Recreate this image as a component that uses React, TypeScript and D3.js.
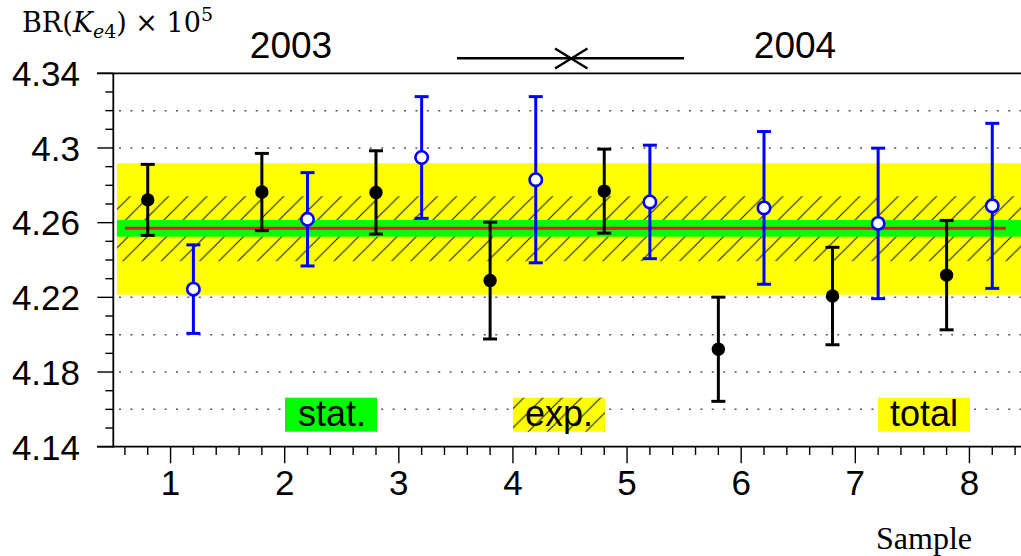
import React from 'react';
import * as d3 from 'd3';

// ---- data ----
const samples = [1, 2, 3, 4, 5, 6, 7, 8];
const xTickLabels = ['1', '2', '3', '4', '5', '6', '7', '8'];
const filledValues = [4.2722, 4.2764, 4.2762, 4.229, 4.2769, 4.1922, 4.2207, 4.2319];
const filledErrors = [0.019, 0.0207, 0.0223, 0.0313, 0.0225, 0.0279, 0.0261, 0.0293];
const openValues = [4.2244, 4.2618, 4.2949, 4.283, 4.2711, 4.2679, 4.2596, 4.269];
const openErrors = [0.0237, 0.025, 0.0326, 0.0445, 0.0304, 0.0409, 0.0403, 0.0442];
const yTickValues = [4.14, 4.18, 4.22, 4.26, 4.3, 4.34];
const yTickLabels = ['4.14', '4.18', '4.22', '4.26', '4.3', '4.34'];
const gridValues = [4.16, 4.18, 4.2, 4.22, 4.24, 4.26, 4.28, 4.3, 4.32];
const average = 4.257;
const averageRange = [0.6, 8.32];
const statBand = [4.2525, 4.2614];
const expBand = [4.2394, 4.2742];
const totalBand = [4.2214, 4.2918];
const bandRange = [0.53, 8.5];
const legendLabels = ['stat.', 'exp.', 'total'];
const yearLabels = ['2003', '2004'];

const SHIFT = 0.2;

export default function App() {
  const W = 1021;
  const H = 556;
  const x = d3.scaleLinear().domain([0.5, 8.5]).range([113.5, 1026.5]);
  const y = d3.scaleLinear().domain([4.14, 4.34]).range([446.7, 73.3]);
  const sans = "'Liberation Sans', Arial, Helvetica, sans-serif";
  const serif = "'Liberation Serif', 'Times New Roman', serif";
  const wideSerif = "'DejaVu Serif', 'Liberation Serif', serif";

  const minorX = d3.range(6, 85, 2).map((v) => v / 10);
  const minorY = d3.range(414, 435, 1).map((v) => v / 100);

  const bandRect = (b: number[], fill: string) => (
    <rect
      x={x(bandRange[0])}
      width={x(bandRange[1]) - x(bandRange[0])}
      y={y(b[1])}
      height={y(b[0]) - y(b[1])}
      fill={fill}
    />
  );

  const errBar = (cx: number, v: number, e: number, color: string, key: string) => (
    <g key={key} stroke={color} strokeWidth={3} fill="none">
      <line x1={cx} x2={cx} y1={y(v + e)} y2={y(v - e)} />
      <line x1={cx - 7} x2={cx + 7} y1={y(v + e)} y2={y(v + e)} />
      <line x1={cx - 7} x2={cx + 7} y1={y(v - e)} y2={y(v - e)} />
    </g>
  );

  return (
    <svg
      width={W}
      height={H}
      style={{ position: 'absolute', left: 0, top: 0, background: '#fff' }}
    >
      <defs>
        <pattern id="hatch" patternUnits="userSpaceOnUse" width={19.2} height={19.2}>
          <path
            d="M0,19.2 L19.2,0 M-4.8,4.8 L4.8,-4.8 M14.4,24 L24,14.4"
            stroke="#1a1a1a"
            strokeWidth={1.1}
          />
        </pattern>
      </defs>
      <rect width={W} height={H} fill="#fff" />

      {/* dotted grid */}
      {gridValues.map((g) => (
        <line
          key={'g' + g}
          x1={119}
          x2={W}
          y1={y(g)}
          y2={y(g)}
          stroke="#555"
          strokeWidth={1.5}
          strokeDasharray="2 9.4"
        />
      ))}

      {/* bands */}
      {bandRect(totalBand, '#ffff00')}
      {bandRect(expBand, 'url(#hatch)')}
      {bandRect(statBand, '#00ff00')}
      <line
        x1={x(averageRange[0])}
        x2={x(averageRange[1])}
        y1={y(average)}
        y2={y(average)}
        stroke="#e8141e"
        strokeWidth={2.8}
      />

      {/* error bars & points */}
      {samples.map((s, i) => errBar(x(s - SHIFT), filledValues[i], filledErrors[i], '#000', 'f' + s))}
      {samples.map((s, i) => errBar(x(s + SHIFT), openValues[i], openErrors[i], '#0000ff', 'o' + s))}
      {samples.map((s, i) => (
        <circle key={'fc' + s} cx={x(s - SHIFT)} cy={y(filledValues[i])} r={6.7} fill="#000" />
      ))}
      {samples.map((s, i) => (
        <circle
          key={'oc' + s}
          cx={x(s + SHIFT)}
          cy={y(openValues[i])}
          r={6.2}
          fill="#fff"
          stroke="#0000ff"
          strokeWidth={2.6}
        />
      ))}

      {/* legend boxes */}
      <rect x={285} y={397.7} width={92} height={34} fill="#00ff00" />
      <rect x={513} y={397.7} width={92} height={34} fill="#ffff00" />
      <rect x={513} y={397.7} width={92} height={34} fill="url(#hatch)" />
      <rect x={878} y={397.7} width={92} height={34} fill="#ffff00" />
      <g fontFamily={sans} fontSize={36} fill="#000" textAnchor="middle">
        <text x={332} y={426}>{legendLabels[0]}</text>
        <text x={559} y={426}>{legendLabels[1]}</text>
        <text x={924} y={426}>{legendLabels[2]}</text>
      </g>

      {/* axes */}
      <g stroke="#000" fill="none">
        <line x1={113.3} x2={113.3} y1={73.3} y2={447.5} strokeWidth={1.8} />
        <line x1={97} x2={W} y1={446.7} y2={446.7} strokeWidth={1.8} />
        <line x1={97} x2={W} y1={73.3} y2={73.3} strokeWidth={1.8} />
        {minorY.map((v) => {
          const major = yTickValues.some((t) => Math.abs(t - v) < 1e-6);
          return (
            <line
              key={'yt' + v}
              x1={major ? 97.3 : 105.3}
              x2={113.3}
              y1={y(v)}
              y2={y(v)}
              strokeWidth={1.4}
            />
          );
        })}
        {minorX.map((v) => {
          const major = Math.abs(v - Math.round(v)) < 1e-6;
          return (
            <line
              key={'xt' + v}
              x1={x(v)}
              x2={x(v)}
              y1={446.7}
              y2={major ? 463.3 : 455}
              strokeWidth={1.4}
            />
          );
        })}
      </g>

      {/* tick labels */}
      <g fontFamily={sans} fontSize={35} fill="#000">
        {yTickValues.map((v, i) => (
          <text key={'yl' + v} x={80} y={y(v) + 12.8} textAnchor="end">
            {yTickLabels[i]}
          </text>
        ))}
        {samples.map((s, i) => (
          <text key={'xl' + s} x={x(s)} y={495} textAnchor="middle">
            {xTickLabels[i]}
          </text>
        ))}
      </g>

      {/* year labels and arrow */}
      <g fontFamily={sans} fontSize={37} fill="#000" textAnchor="middle">
        <text x={291} y={58}>{yearLabels[0]}</text>
        <text x={795} y={58}>{yearLabels[1]}</text>
      </g>
      <g stroke="#000" strokeWidth={2.5} fill="none">
        <line x1={457} x2={684} y1={58.3} y2={58.3} />
        <line x1={555} x2={587.5} y1={48.5} y2={68.5} />
        <line x1={555} x2={587.5} y1={68.5} y2={48.5} />
      </g>

      {/* axis titles */}
      <text x={22} y={32} fontFamily={wideSerif} fontSize={27} fill="#000">
        BR(<tspan fontStyle="italic">K</tspan>
        <tspan dy={6} fontSize={19} fontStyle="italic">e</tspan>
        <tspan fontSize={19}>4</tspan>
        <tspan dy={-6}>) × 10</tspan>
        <tspan dy={-11} fontSize={19}>5</tspan>
      </text>
      <text x={876} y={549} fontFamily={serif} fontSize={32} fill="#000">
        Sample
      </text>
    </svg>
  );
}
